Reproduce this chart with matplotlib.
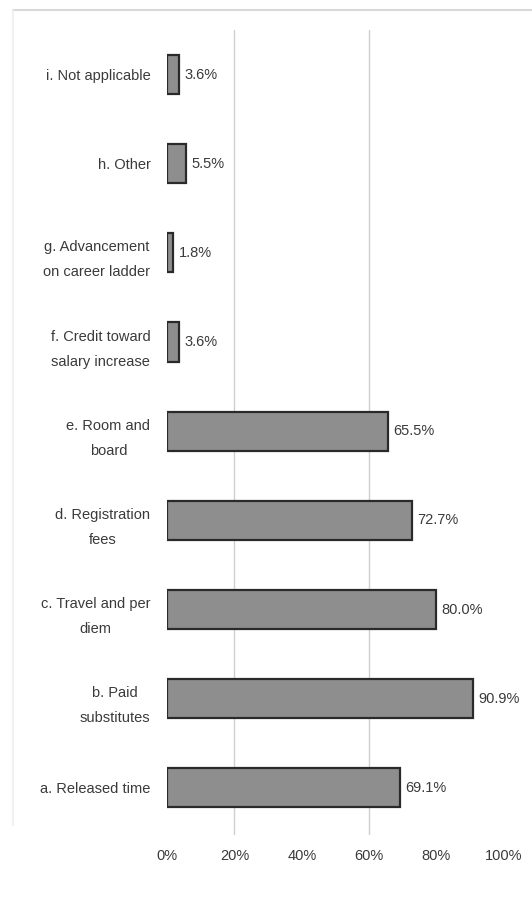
import matplotlib
matplotlib.use("Agg")
import matplotlib.pyplot as plt
from matplotlib.lines import Line2D

categories = [
    "a. Released time",
    "b. Paid\nsubstitutes",
    "c. Travel and per\ndiem",
    "d. Registration\nfees",
    "e. Room and\nboard",
    "f. Credit toward\nsalary increase",
    "g. Advancement\non career ladder",
    "h. Other",
    "i. Not applicable",
]
values = [69.1, 90.9, 80.0, 72.7, 65.5, 3.6, 1.8, 5.5, 3.6]
xticks = [0, 20, 40, 60, 80, 100]
xticklabels = ["0%", "20%", "40%", "60%", "80%", "100%"]

plt.rcParams['font.family'] = ['Liberation Sans', 'DejaVu Sans']
text_color = "#3a3a3a"

fig = plt.figure(figsize=(5.32, 8.97), dpi=100)
ax = fig.add_axes([0.314, 0.069, 0.633, 0.8976])

# scan frame lines
fig.add_artist(Line2D([13/532, 1.0], [1 - 10/897, 1 - 10/897], transform=fig.transFigure,
                      color="#d8d8d8", lw=1.5))
fig.add_artist(Line2D([13/532, 13/532], [0.08, 1 - 10/897], transform=fig.transFigure,
                      color="#eeeeee", lw=1.2))

ypos = list(range(len(categories)))
for g in [20, 60]:
    ax.axvline(g, color="#cfcfcf", lw=1.0, zorder=0)

ax.barh(ypos, values, height=0.44, color="#8e8e8e", edgecolor="#2a2a2a", linewidth=1.6, zorder=2)
for y, v in zip(ypos, values):
    ax.text(v + 1.6, y, f"{v:.1f}%", va="center", ha="left", fontsize=10.5, color=text_color)

ax.set_xlim(0, 100)
ax.set_ylim(-0.53, 8.5)
ax.set_yticks(ypos)
ax.set_yticklabels(categories, fontsize=10.5, color=text_color, linespacing=2.0,
                   multialignment="center")
ax.set_xticks(xticks)
ax.set_xticklabels(xticklabels, fontsize=10.5, color=text_color)
ax.tick_params(axis="both", length=0)
ax.tick_params(axis="y", pad=12)
ax.tick_params(axis="x", pad=10)
for s in ax.spines.values():
    s.set_visible(False)

fig.savefig("out.png", dpi=100, facecolor="white")
